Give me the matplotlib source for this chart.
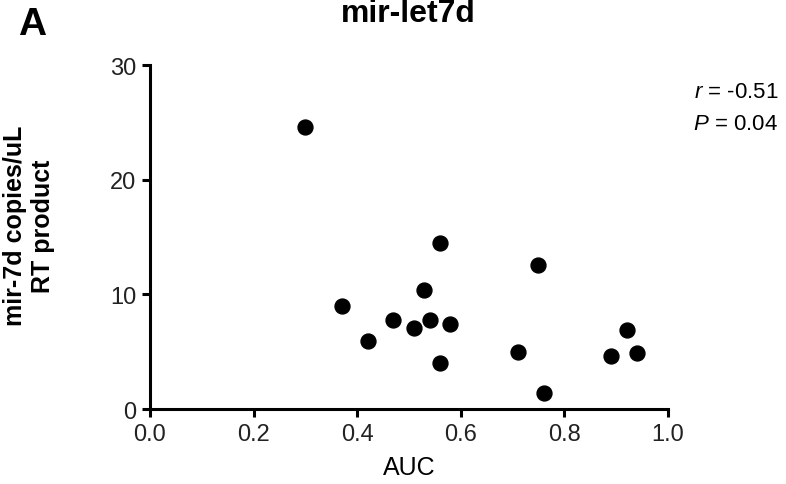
import numpy as np
import matplotlib
matplotlib.use('Agg')
from matplotlib import pyplot as plt

plt.rcParams['font.family'] = ['Liberation Sans', 'DejaVu Sans']
plt.rcParams['mathtext.fontset'] = 'custom'
plt.rcParams['mathtext.it'] = 'Liberation Sans:italic'
plt.rcParams['mathtext.rm'] = 'Liberation Sans'

auc = [0.30, 0.37, 0.42, 0.47, 0.51, 0.53, 0.54, 0.56, 0.56, 0.58,
       0.71, 0.75, 0.76, 0.89, 0.92, 0.94]
copies = [24.6, 9.0, 5.9, 7.8, 7.1, 10.4, 7.8, 14.5, 4.0, 7.4,
          5.0, 12.6, 1.4, 4.6, 6.9, 4.9]
xticks = [0.0, 0.2, 0.4, 0.6, 0.8, 1.0]
yticks = [0, 10, 20, 30]

fig = plt.figure(figsize=(7.86, 4.85), dpi=100)
ax = fig.add_axes([0.1908, 0.1546, 0.659, 0.7093])

ax.scatter(auc, copies, s=115, color='black', zorder=3, clip_on=False)

ax.set_xlim(0, 1.0)
ax.set_ylim(0, 30)
ax.set_xticks(xticks)
ax.set_xticklabels(['%.1f' % t for t in xticks])
ax.set_yticks(yticks)

for s in ['top', 'right']:
    ax.spines[s].set_visible(False)
for s in ['left', 'bottom']:
    ax.spines[s].set_linewidth(2.2)
ax.tick_params(width=2.2, length=6, labelsize=17, colors='black', pad=4)
for lbl in ax.get_xticklabels() + ax.get_yticklabels():
    lbl.set_color('#222222')

ax.set_xlabel('AUC', fontsize=18, labelpad=7)
ax.set_ylabel('mir-7d copies/uL\nRT product', fontsize=18, fontweight='bold')
ax.yaxis.set_label_coords(-0.183, 0.535)

fig.text(0.519, 0.971, 'mir-let7d', ha='center', va='center', fontsize=23, fontweight='bold')
fig.text(0.041, 0.948, 'A', ha='center', va='center', fontsize=28, fontweight='bold')

fig.text(0.99, 0.81, r'$\it{r}$ = -0.51', ha='right', va='center', fontsize=16)
fig.text(0.99, 0.744, r'$\it{P}$ = 0.04', ha='right', va='center', fontsize=16)

fig.savefig('out.png', dpi=100)
